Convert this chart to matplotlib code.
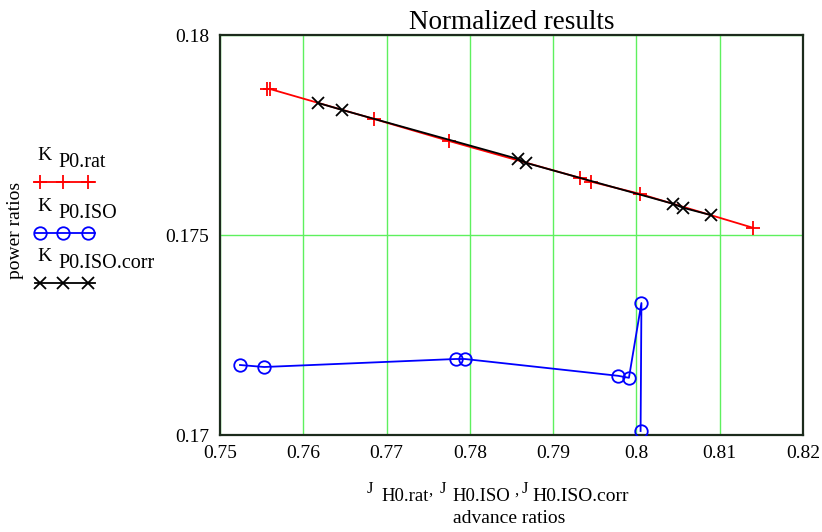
import numpy as np
import matplotlib
matplotlib.use('Agg')
import matplotlib.pyplot as plt
from matplotlib.lines import Line2D

plt.rcParams['font.family'] = ['Liberation Serif', 'DejaVu Serif']

# advance ratios / power ratios
J_rat = [0.7556, 0.7560, 0.7685, 0.7775, 0.7932, 0.7946, 0.8004, 0.8140]
K_rat = [0.17865, 0.17865, 0.1779, 0.17735, 0.17643, 0.17633, 0.17603, 0.17518]

J_iso = [0.7524, 0.7553, 0.7783, 0.7794, 0.7978, 0.7991, 0.8006, 0.8005]
K_iso = [0.17175, 0.1717, 0.1719, 0.1719, 0.17148, 0.17143, 0.1733, 0.1701]

J_corr = [0.7618, 0.7646, 0.7858, 0.7868, 0.8044, 0.8056, 0.8089]
K_corr = [0.1783, 0.17813, 0.1769, 0.1768, 0.17578, 0.17568, 0.1755]

x_ticks = [0.75, 0.76, 0.77, 0.78, 0.79, 0.8, 0.81, 0.82]
x_labels = ['0.75', '0.76', '0.77', '0.78', '0.79', '0.8', '0.81', '0.82']
y_ticks = [0.17, 0.175, 0.18]
y_labels = ['0.17', '0.175', '0.18']

W, H = 822, 532
fig = plt.figure(figsize=(W / 100, H / 100), dpi=100)
ax = fig.add_axes([220 / W, (H - 435) / H, 583 / W, 400 / H])

grid_col = '#5ef05e'
frame_col = '#1c2b1c'

ax.plot(J_rat, K_rat, color='red', lw=1.3, marker='+', ms=10, mew=1.3, zorder=3)
ax.plot(J_iso, K_iso, color='blue', lw=1.3, marker='o', ms=9, mfc='none', mew=1.3, zorder=3)
ax.plot(J_corr, K_corr, color='black', lw=1.3, marker='x', ms=9, mew=1.3, zorder=4)

ax.set_xlim(0.75, 0.82)
ax.set_ylim(0.17, 0.18)
ax.set_xticks(x_ticks)
ax.set_xticklabels(x_labels)
ax.set_yticks(y_ticks)
ax.set_yticklabels(y_labels)
ax.tick_params(length=0, labelsize=14, pad=8)
ax.tick_params(axis='x', pad=7)
ax.grid(True, color=grid_col, lw=1.0)
ax.set_axisbelow(True)
for s in ax.spines.values():
    s.set_color(frame_col)
    s.set_linewidth(1.6)

ax.set_title('Normalized results', fontsize=19.5, pad=3)

# legend drawn by hand on the left side
def px(x, y):
    return x / W, 1 - y / H

legend = [
    ('P0.rat', 'red', '+', 'red', 182),
    ('P0.ISO', 'blue', 'o', 'none', 233),
    ('P0.ISO.corr', 'black', 'x', 'black', 283),
]
for sub, col, mk, mfc, yy in legend:
    fig.text(*px(37, yy - 22), 'K', fontsize=14, va='baseline')
    fig.text(*px(58, yy - 15), sub, fontsize=14.5, va='baseline')
    xs = [35 / W, 95 / W]
    ys = [1 - yy / H] * 2
    fig.add_artist(Line2D(xs, ys, color=col, lw=1.3, transform=fig.transFigure))
    fig.add_artist(Line2D([40 / W, 63 / W, 88 / W], [1 - yy / H] * 3, ls='none', marker=mk,
                          ms=10 if mk == '+' else 9, mec=col, mfc=mfc, mew=1.3,
                          transform=fig.transFigure))

fig.text(*px(16, 230), 'power ratios', fontsize=14, rotation=90, ha='center', va='center')

# x axis label
fig.text(*px(367, 493), 'J', fontsize=12, va='baseline')
fig.text(*px(381, 501), 'H0.rat', fontsize=13.5, va='baseline')
fig.text(*px(428, 495), ',', fontsize=12, va='baseline')
fig.text(*px(440, 493), 'J', fontsize=12, va='baseline')
fig.text(*px(452, 501), 'H0.ISO', fontsize=13.5, va='baseline')
fig.text(*px(514, 495), ',', fontsize=12, va='baseline')
fig.text(*px(522, 493), 'J', fontsize=12, va='baseline')
fig.text(*px(532, 501), 'H0.ISO.corr', fontsize=14, va='baseline')
fig.text(*px(509, 523), 'advance ratios', fontsize=14, ha='center', va='baseline')

fig.savefig('out.png', dpi=100)
